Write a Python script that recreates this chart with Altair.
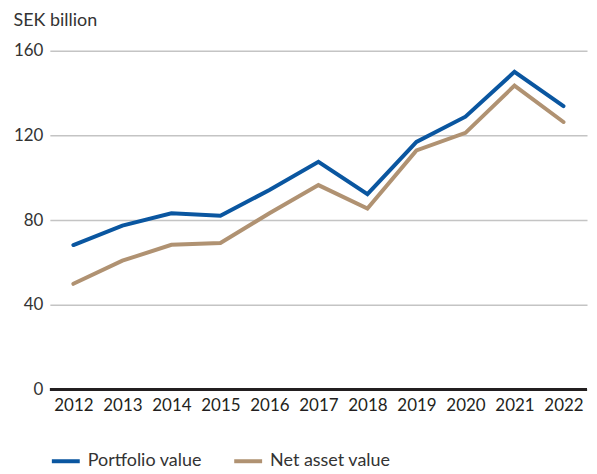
import altair as alt
import pandas as pd

years = ["2012", "2013", "2014", "2015", "2016", "2017", "2018", "2019", "2020", "2021", "2022"]
portfolio = [68.2, 77.4, 83.2, 82.0, 94.2, 107.5, 92.2, 116.9, 128.8, 150.0, 133.8]
nav = [49.9, 60.8, 68.3, 69.2, 83.2, 96.5, 85.4, 112.9, 121.2, 143.5, 126.3]
series_names = ["Portfolio value", "Net asset value"]
colors = ["#0a56a0", "#b09272"]

rows = []
for y, p, n in zip(years, portfolio, nav):
    rows.append({"year": y, "series": series_names[0], "value": p})
    rows.append({"year": y, "series": series_names[1], "value": n})
df = pd.DataFrame(rows)

FONT = "Lato"

lines = alt.Chart(df).mark_line(strokeWidth=4, strokeCap="round", strokeJoin="miter").encode(
    x=alt.X("year:N", sort=years, scale=alt.Scale(type="point", padding=0.48),
            axis=alt.Axis(title=None, labelAngle=0, domain=False, ticks=False, grid=False,
                          labelFontSize=17, labelColor="#231f20", labelFont=FONT, labelPadding=8)),
    y=alt.Y("value:Q", scale=alt.Scale(domain=[0, 160], nice=False),
            axis=alt.Axis(values=[0, 40, 80, 120, 160], title="SEK billion", titleAngle=0,
                          titleAlign="left", titleBaseline="alphabetic", titleX=-37, titleY=-25,
                          titleFont=FONT, titleFontSize=18, titleFontWeight="normal", titleColor="#333333",
                          labelFont=FONT, labelFontSize=17, labelColor="#333333", labelPadding=7,
                          domain=False, ticks=False, gridColor="#c4c4c4", gridWidth=1.5)),
    color=alt.Color("series:N", sort=series_names,
                    scale=alt.Scale(domain=series_names, range=colors),
                    legend=alt.Legend(title=None, orient="none", legendX=0, legendY=396,
                                      direction="horizontal", symbolType="stroke",
                                      symbolSize=784, symbolStrokeWidth=4, labelFont=FONT,
                                      labelFontSize=18, labelColor="#333333", labelOffset=6,
                                      columnPadding=24, padding=0)),
)

zero = alt.Chart(pd.DataFrame({"v": [0]})).mark_rule(color="#231f20", strokeWidth=3).encode(y="v:Q")

chart = alt.layer(zero, lines).properties(
    width=539, height=340,
    padding={"left": 5, "top": 3, "right": 0, "bottom": 0},
).configure_view(stroke=None)
chart.save("out.html", embed_options={"renderer": "svg", "actions": False})
